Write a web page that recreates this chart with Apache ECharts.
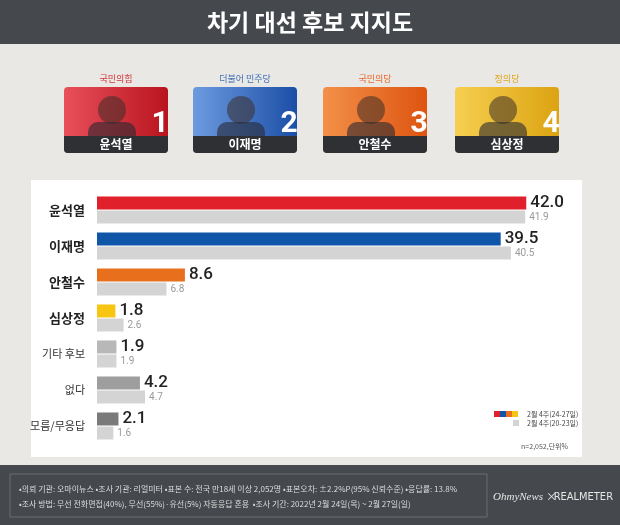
<!DOCTYPE html>
<html><head><meta charset="utf-8">
<script src="https://cdn.jsdelivr.net/npm/echarts@6/dist/echarts.min.js"></script>
<style>html,body{margin:0;padding:0;background:#e9e8e4}#c{width:620px;height:525px}</style>
</head><body><div id="c"></div>
<script>
const categories = ['윤석열','이재명','안철수','심상정','기타 후보','없다','모름/무응답'];
const currentWeek = [42.0, 39.5, 8.6, 1.8, 1.9, 4.2, 2.1];
const previousWeek = [41.9, 40.5, 6.8, 2.6, 1.9, 4.7, 1.6];
const barColors = ['#e0202b','#0f56a8','#e8701c','#f9c513','#b8b8b8','#9e9e9e','#7a7a7a'];
const candidates = ['윤석열','이재명','안철수','심상정'];
const parties = ['국민의힘','더불어 민주당','국민의당','정의당'];
const partyColors = ['#d2343a','#3f6fb8','#e8672a','#e0a51a'];
const cardGrad = [['#e8505a','#b8141e'],['#6d9be0','#1b4ea6'],['#f39048','#dd5410'],['#f6cf50','#dca312']];
const legendNames = ['2월 4주(24-27일)','2월 4주(20-23일)'];

const F = 'Noto Sans CJK KR, sans-serif';
const chart = echarts.init(document.getElementById('c'));
const g = [];
g.push({type:'rect',shape:{x:0,y:0,width:620,height:44},style:{fill:'#45484d'},z:-1});
g.push({type:'text',x:310,y:22,style:{text:'차기 대선 후보 지지도',fill:'#fff',font:'bold 23px '+F,textAlign:'center',textVerticalAlign:'middle'}});
g.push({type:'rect',shape:{x:31,y:180,width:551,height:277},style:{fill:'#fff'},z:-2});
g.push({type:'rect',shape:{x:0,y:465,width:620,height:60},style:{fill:'#45484d'},z:-1});
g.push({type:'rect',shape:{x:10,y:474,width:477,height:43},style:{fill:'none',stroke:'#6a6d72',lineWidth:1}});
g.push({type:'text',x:19,y:489,style:{text:'•의뢰 기관: 오마이뉴스 •조사 기관: 리얼미터 •표본 수: 전국 만18세 이상 2,052명 •표본오차: ±2.2%P(95% 신뢰수준) •응답률: 13.8%',fill:'#dcdcdc',font:'8px '+F,textVerticalAlign:'middle'}});
g.push({type:'text',x:19,y:504,style:{text:'•조사 방법: 무선 전화면접(40%), 무선(55%)·유선(5%) 자동응답 혼용  •조사 기간: 2022년 2월 24일(목) ~ 2월 27일(일)',fill:'#dcdcdc',font:'8px '+F,textVerticalAlign:'middle'}});
g.push({type:'text',x:493,y:497,style:{text:'OhmyNews',fill:'#e6e6e6',font:'italic 11px serif',textVerticalAlign:'middle'}});
g.push({type:'text',x:546,y:497,style:{text:'×',fill:'#e6e6e6',font:'11px '+F,textVerticalAlign:'middle'}});
g.push({type:'text',x:613,y:497,style:{text:'REALMETER',fill:'#e6e6e6',font:'11px "Liberation Sans Narrow", "DejaVu Sans Condensed", sans-serif',textAlign:'right',textVerticalAlign:'middle'}});
const cx=[64,193,323,455];
candidates.forEach((n,i)=>{
  const x=cx[i];
  g.push({type:'text',x:x+52,y:79,style:{text:parties[i],fill:partyColors[i],font:'9px '+F,textAlign:'center',textVerticalAlign:'middle'}});
  g.push({type:'rect',shape:{x:x,y:87,width:104,height:66,r:4},style:{fill:new echarts.graphic.LinearGradient(0,0,1,0,[{offset:0,color:cardGrad[i][0]},{offset:1,color:cardGrad[i][1]}])}});
  g.push({type:'circle',shape:{cx:x+48,cy:110,r:14},style:{fill:'rgba(60,45,40,0.55)'}});
  g.push({type:'rect',shape:{x:x+24,y:122,width:48,height:14,r:[10,10,0,0]},style:{fill:'rgba(40,40,50,0.6)'}});
  g.push({type:'rect',shape:{x:x,y:136,width:104,height:17,r:[0,0,4,4]},style:{fill:'#2f3033'}});
  g.push({type:'text',x:x+52,y:144.5,style:{text:n,fill:'#fff',font:'bold 12px '+F,textAlign:'center',textVerticalAlign:'middle'}});
  g.push({type:'text',x:x+96,y:124,style:{text:String(i+1),fill:'#fff',font:'bold 30px Roboto, sans-serif',textAlign:'center',textVerticalAlign:'middle'}});
});
[0,1,2,3].forEach(k=>g.push({type:'rect',shape:{x:494+k*6,y:411,width:6,height:6},style:{fill:barColors[k]}}));
g.push({type:'rect',shape:{x:513,y:420,width:6,height:6},style:{fill:'#d4d4d4'}});
g.push({type:'text',x:527,y:414,style:{text:legendNames[0],fill:'#444',font:'7px '+F,textVerticalAlign:'middle'}});
g.push({type:'text',x:527,y:423,style:{text:legendNames[1],fill:'#444',font:'7px '+F,textVerticalAlign:'middle'}});
g.push({type:'text',x:568,y:446,style:{text:'n=2,052,단위%',fill:'#555',font:'7px '+F,textAlign:'right',textVerticalAlign:'middle'}});

chart.setOption({
  animation:false,
  graphic:g,
  grid:{left:97,right:12,top:192,bottom:81},
  xAxis:{type:'value',min:0,max:50,show:false},
  yAxis:{type:'category',data:categories,inverse:true,axisLine:{show:false},axisTick:{show:false},
    axisLabel:{margin:12,color:'#222',fontFamily:F,
      formatter:(v,i)=>i<4?'{b|'+v+'}':'{n|'+v+'}',
      rich:{b:{fontWeight:'bold',fontSize:13,fontFamily:F,color:'#222'},n:{fontSize:11,fontFamily:F,color:'#333'}}}},
  series:[
    {type:'bar',data:currentWeek.map((v,i)=>({value:v,itemStyle:{color:barColors[i]}})),barWidth:13,barGap:'8%',
     label:{show:true,position:'right',distance:4,formatter:p=>p.value.toFixed(1),fontSize:17,fontWeight:500,color:'#222',fontFamily:'Roboto, sans-serif'}},
    {type:'bar',data:previousWeek,barWidth:13,itemStyle:{color:'#d4d4d4'},
     label:{show:true,position:'right',distance:4,formatter:p=>p.value.toFixed(1),fontSize:10,color:'#999',fontFamily:'Roboto, sans-serif'}}
  ]
});
</script></body></html>
